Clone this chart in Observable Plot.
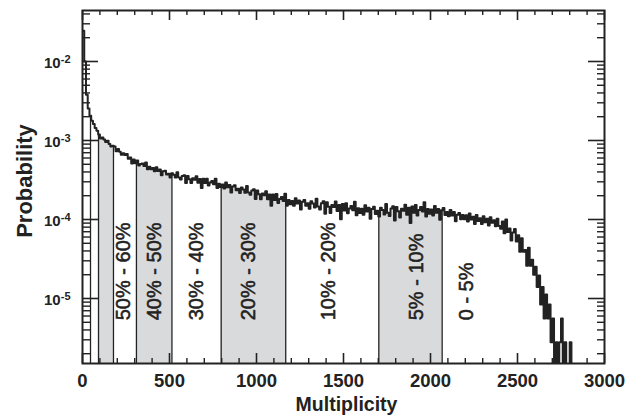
<!DOCTYPE html>
<html><head><meta charset="utf-8">
<script src="https://cdn.jsdelivr.net/npm/d3@7"></script>
<script src="https://cdn.jsdelivr.net/npm/@observablehq/plot@0.6"></script>
<style>
body{margin:0;background:#fff}
svg{font-family:"Liberation Sans",Arial,Helvetica,sans-serif}
</style>
</head><body><div id="chart"></div>
<script>
// Histogram bin width (multiplicity units); bin i starts at i*binWidth
const binWidth = 10;
// Probability per bin (1e-7 = empty bin)
const prob = [
2.45e-2,1.0e-2,3.8e-3,2.55e-3,2.05e-3,1.78e-3,1.62e-3,1.44e-3,1.33e-3,1.19e-3,
1.06e-3,1.09e-3,1.03e-3,9.6e-4,9.96e-4,9.0e-4,8.4e-4,8.57e-4,8.42e-4,7.3e-4,
7.8e-4,7.2e-4,6.58e-4,6.91e-4,6.54e-4,6.73e-4,5.89e-4,6.08e-4,5.13e-4,5.75e-4,
5.17e-4,5.57e-4,4.82e-4,5.04e-4,5.13e-4,4.77e-4,5.25e-4,4.34e-4,4.64e-4,4.32e-4,
4.49e-4,4.09e-4,4.58e-4,4.12e-4,4.28e-4,3.64e-4,4.08e-4,4.15e-4,3.7e-4,3.8e-4,
3.4e-4,3.86e-4,3.68e-4,3.4e-4,3.95e-4,3.41e-4,3.2e-4,3.55e-4,3.64e-4,2.9e-4,
3.54e-4,3.24e-4,2.89e-4,3.33e-4,3.18e-4,3.52e-4,2.92e-4,3.26e-4,2.51e-4,3.28e-4,
2.89e-4,3.29e-4,2.7e-4,2.94e-4,3.06e-4,2.8e-4,3.28e-4,2.51e-4,2.83e-4,2.58e-4,
2.78e-4,2.46e-4,2.93e-4,2.56e-4,2.73e-4,2.19e-4,2.62e-4,2.71e-4,2.34e-4,2.45e-4,
2.16e-4,2.54e-4,2.4e-4,2.18e-4,2.65e-4,2.2e-4,2.05e-4,2.33e-4,2.42e-4,1.82e-4,
2.33e-4,2.09e-4,1.81e-4,2.14e-4,2.02e-4,2.27e-4,1.81e-4,2.07e-4,1.49e-4,2.07e-4,
1.77e-4,2.1e-4,1.62e-4,1.82e-4,1.93e-4,1.72e-4,2.12e-4,1.49e-4,1.76e-4,1.56e-4,
1.72e-4,1.49e-4,1.86e-4,1.59e-4,1.74e-4,1.34e-4,1.68e-4,1.76e-4,1.49e-4,1.6e-4,
1.37e-4,1.7e-4,1.59e-4,1.42e-4,1.83e-4,1.46e-4,1.34e-4,1.61e-4,1.7e-4,1.18e-4,
1.65e-4,1.45e-4,1.21e-4,1.53e-4,1.44e-4,1.69e-4,1.28e-4,1.53e-4,1.01e-4,1.57e-4,
1.3e-4,1.6e-4,1.2e-4,1.38e-4,1.48e-4,1.31e-4,1.68e-4,1.13e-4,1.39e-4,1.21e-4,
1.37e-4,1.15e-4,1.51e-4,1.26e-4,1.41e-4,1.02e-4,1.36e-4,1.45e-4,1.17e-4,1.29e-4,
1.09e-4,1.41e-4,1.32e-4,1.16e-4,1.57e-4,1.22e-4,1.11e-4,1.38e-4,1.47e-4,0.97e-4,
1.44e-4,1.27e-4,1.06e-4,1.37e-4,1.29e-4,1.54e-4,1.15e-4,1.41e-4,0.9e-4,1.46e-4,
1.22e-4,1.53e-4,1.12e-4,1.32e-4,1.44e-4,1.26e-4,1.65e-4,1.09e-4,1.36e-4,1.18e-4,
1.34e-4,1.12e-4,1.48e-4,1.22e-4,1.36e-4,0.99e-4,1.31e-4,1.4e-4,1.14e-4,1.24e-4,
1.1e-4,1.32e-4,1.12e-4,1.24e-4,0.95e-4,1.15e-4,1.21e-4,1.01e-4,1.14e-4,1.01e-4,
1.13e-4,0.94e-4,1.19e-4,1.0e-4,1.08e-4,0.88e-4,1.14e-4,0.96e-4,1.04e-4,0.88e-4,
1.1e-4,0.92e-4,1.02e-4,0.84e-4,1.07e-4,0.91e-4,0.98e-4,0.82e-4,1.02e-4,0.83e-4,
7.65e-5,9.43e-5,6.72e-5,1.0e-4,6.94e-5,7.7e-5,5.44e-5,6.83e-5,7.56e-5,5.28e-5,
6.3e-5,3.9e-5,5.8e-5,3.9e-5,4.1e-5,2.6e-5,4.4e-5,2.6e-5,3.1e-5,2.0e-5,
2.52e-5,1.4e-5,1.96e-5,8.4e-6,1.4e-5,5.6e-6,1.12e-5,5.6e-6,8.4e-6,2.8e-6,
5.6e-6,1e-7,2.8e-6,1e-7,2.8e-6,5.6e-6,1e-7,2.8e-6,1e-7,1e-7,2.8e-6,1e-7,1e-7
];
// Centrality class boundaries (multiplicity)
const boundaries = [46, 92, 178, 310, 514, 797, 1168, 1703, 2067];
const greyBands = [[92, 178], [310, 514], [797, 1168], [1703, 2067]];
const bandLabels = ["50% - 60%", "40% - 50%", "30% - 40%", "20% - 30%", "10% - 20%", "5% - 10%", "0 - 5%"];
const bandLabelX = [236, 414, 655, 954, 1414, 1920, 2210];
const bandLabelY = 5.3e-6;
const xMajor = [0, 500, 1000, 1500, 2000, 2500, 3000];
const xMinor = d3.range(100, 3000, 100).filter(v => v % 500 !== 0);
const yMajor = [1e-5, 1e-4, 1e-3, 1e-2];
const yMinor = [2e-6,3e-6,4e-6,5e-6,6e-6,7e-6,8e-6,9e-6,2e-5,3e-5,4e-5,5e-5,6e-5,7e-5,8e-5,9e-5,
  2e-4,3e-4,4e-4,5e-4,6e-4,7e-4,8e-4,9e-4,2e-3,3e-3,4e-3,5e-3,6e-3,7e-3,8e-3,9e-3,2e-2,3e-2,4e-2];
const xDomain = [0, 3000];
const yDomain = [1.504e-6, 0.0442];

const ink = "#222";
const grey = "#d9dadc";
const W = 628, H = 416, mL = 82, mR = 24, mT = 10, mB = 53;
const innerW = W - mL - mR, innerH = H - mT - mB;

const hist = prob.map((p, i) => ({x: i * binWidth, p}));
const valueAt = m => prob[Math.min(prob.length - 1, Math.floor(m / binWidth))];
const areaPts = greyBands.flatMap(([a, b], k) => [
  {band: k, x: a, p: valueAt(a)},
  ...hist.filter(d => d.x > a && d.x < b).map(d => ({band: k, ...d})),
  {band: k, x: b, p: valueAt(b - 0.001)}
]);

const chart = Plot.plot({
  width: W, height: H,
  marginLeft: mL, marginRight: mR, marginTop: mT, marginBottom: mB,
  style: {fontFamily: "Liberation Sans, Arial, sans-serif", background: "#fff", color: ink},
  x: {domain: xDomain},
  y: {type: "log", domain: yDomain},
  marks: [
    Plot.areaY(areaPts, {x: "x", y1: yDomain[0], y2: "p", z: "band", curve: "step-after", fill: grey}),
    Plot.ruleX(boundaries, {x: d => d, y1: yDomain[0], y2: d => valueAt(d), stroke: ink, strokeWidth: 1.3}),
    Plot.line(hist, {x: "x", y: "p", curve: "step-after", stroke: ink, strokeWidth: 2, clip: true}),
    Plot.text(bandLabels, {x: (d, i) => bandLabelX[i], y: () => bandLabelY, text: d => d, rotate: -90,
      textAnchor: "start", fontSize: 20, fill: ink, stroke: ink, strokeWidth: 0.55}),
    // inward ticks, bottom & top
    Plot.ruleX(xMajor, {x: d => d, insetTop: innerH - 10, stroke: ink, strokeWidth: 1.6}),
    Plot.ruleX(xMajor, {x: d => d, insetBottom: innerH - 10, stroke: ink, strokeWidth: 1.6}),
    Plot.ruleX(xMinor, {x: d => d, insetTop: innerH - 5, stroke: ink, strokeWidth: 1.4}),
    Plot.ruleX(xMinor, {x: d => d, insetBottom: innerH - 5, stroke: ink, strokeWidth: 1.4}),
    // inward ticks, left & right
    Plot.ruleY(yMajor, {y: d => d, insetRight: innerW - 16, stroke: ink, strokeWidth: 1.6}),
    Plot.ruleY(yMajor, {y: d => d, insetLeft: innerW - 16, stroke: ink, strokeWidth: 1.6}),
    Plot.ruleY(yMinor, {y: d => d, insetRight: innerW - 8, stroke: ink, strokeWidth: 1.4}),
    Plot.ruleY(yMinor, {y: d => d, insetLeft: innerW - 7, stroke: ink, strokeWidth: 1.4}),
    Plot.axisX({ticks: xMajor, tickSize: 0, tickPadding: 10, fontSize: 18.5, fontWeight: "bold",
      tickFormat: d => String(d), label: null, fill: ink}),
    Plot.axisY({ticks: yMajor, tickSize: 0, tickPadding: 12, fontSize: 15, fontWeight: "bold", dy: 2,
      tickFormat: d => "10^" + Math.round(Math.log10(d)), label: null, fill: ink}),
    Plot.text(["Probability"], {frameAnchor: "left", textAnchor: "middle", dx: -58, dy: -6, rotate: -90,
      fontSize: 22, fontWeight: "bold", fill: ink}),
    Plot.text(["Multiplicity"], {frameAnchor: "bottom", textAnchor: "middle", dx: 3, dy: 34, lineAnchor: "top",
      fontSize: 19.5, fontWeight: "bold", fill: ink}),
    Plot.frame({stroke: ink, strokeWidth: 2})
  ]
});

// superscript exponents on the y tick labels
const ns = "http://www.w3.org/2000/svg";
chart.querySelectorAll('g[aria-label="y-axis tick label"] text').forEach(t => {
  const [base, exp] = t.textContent.split("^");
  if (exp === undefined) return;
  t.textContent = "";
  const a = document.createElementNS(ns, "tspan"); a.textContent = base;
  const b = document.createElementNS(ns, "tspan"); b.textContent = exp;
  b.setAttribute("dy", "-0.5em"); b.setAttribute("font-size", "11");
  t.append(a, b);
});
document.getElementById("chart").append(chart);
</script>
</body></html>
